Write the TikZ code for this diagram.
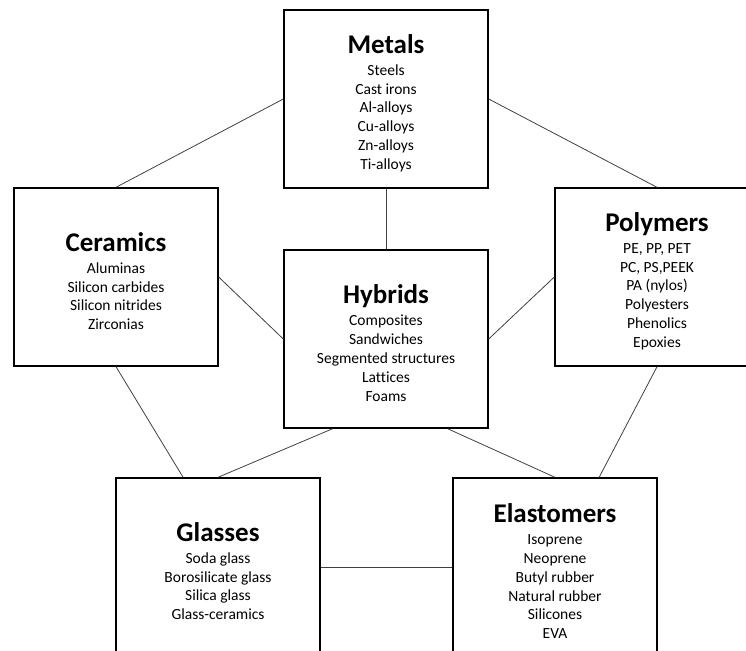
\documentclass[tikz,border=0pt]{standalone}
\usepackage{fontspec}
\setmainfont{Carlito}[Ligatures=CommonOff]
\usetikzlibrary{calc}
\begin{document}
\begin{tikzpicture}[x=1pt,y=-1pt,
  family/.style={draw=black, line width=1.4pt, minimum width=204pt, minimum height=178pt, inner sep=0pt},
  famtext/.style={inner sep=0pt, align=center, font=\fontsize{15.5}{18.8}\selectfont},
  link/.style={draw=black!75, line width=0.8pt}]
\newcommand{\famtitle}[1]{{\fontsize{27}{27}\bfseries #1}\\[3.5pt]}
\useasboundingbox (0,0) rectangle (746,650);
\begin{scope}
\clip (0,0) rectangle (746,650);
% boxes
\node[family] (metals) at (386,99) {};
\node[family] (ceramics) at (116,277) {};
\node[family] (hybrids) at (386,339) {};
\node[family] (polymers) at (657,277) {};
\node[family] (glasses) at (218,567) {};
\node[family] (elastomers) at (555,567) {};
% box contents
\node[famtext] (metals-t) at ([yshift=-4pt]metals.center) {\famtitle{Metals}Steels\\Cast irons\\Al-alloys\\Cu-alloys\\Zn-alloys\\Ti-alloys};
\node[famtext] (ceramics-t) at ([yshift=-4pt]ceramics.center) {\famtitle{Ceramics}Aluminas\\Silicon carbides\\Silicon nitrides\\Zirconias};
\node[famtext] (hybrids-t) at ([yshift=-4pt]hybrids.center) {\famtitle{Hybrids}Composites\\Sandwiches\\Segmented structures\\Lattices\\Foams};
\node[famtext] (polymers-t) at ([yshift=-4pt]polymers.center) {\famtitle{Polymers}PE, PP, PET\\PC, PS,PEEK\\PA (nylos)\\Polyesters\\Phenolics\\Epoxies};
\node[famtext] (glasses-t) at ([yshift=-4pt]glasses.center) {\famtitle{Glasses}Soda glass\\Borosilicate glass\\Silica glass\\Glass-ceramics};
\node[famtext] (elastomers-t) at ([yshift=-4pt]elastomers.center) {\famtitle{Elastomers}Isoprene\\Neoprene\\Butyl rubber\\Natural rubber\\Silicones\\EVA};
% connectors
\draw[link] (metals.west) -- (ceramics.north);
\draw[link] (metals.east) -- (polymers.north);
\draw[link] (metals.south) -- (hybrids.north);
\draw[link] (ceramics.east) -- (hybrids.west);
\draw[link] (polymers.west) -- (hybrids.east);
\draw[link] (ceramics.south) -- ($(glasses.north west)!0.33!(glasses.north east)$);
\draw[link] ($(hybrids.south west)!0.24!(hybrids.south east)$) -- (glasses.north);
\draw[link] ($(hybrids.south west)!0.8!(hybrids.south east)$) -- (elastomers.north);
\draw[link] (polymers.south) -- ($(elastomers.north west)!0.715!(elastomers.north east)$);
\draw[link] (glasses.east) -- (elastomers.west);
\end{scope}
\end{tikzpicture}
\end{document}
